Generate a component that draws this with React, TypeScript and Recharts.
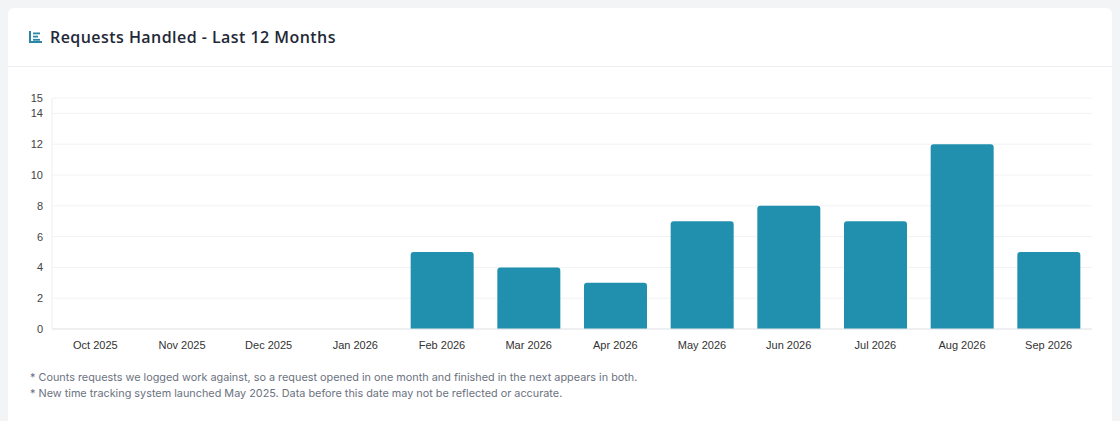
import { Bar, BarChart, CartesianGrid, XAxis, YAxis } from "recharts";

const months = [
  "Oct 2025",
  "Nov 2025",
  "Dec 2025",
  "Jan 2026",
  "Feb 2026",
  "Mar 2026",
  "Apr 2026",
  "May 2026",
  "Jun 2026",
  "Jul 2026",
  "Aug 2026",
  "Sep 2026",
];
const requests = [0, 0, 0, 0, 5, 4, 3, 7, 8, 7, 12, 5];
const yTicks = [0, 2, 4, 6, 8, 10, 12, 14, 15];
const notes = [
  "* Counts requests we logged work against, so a request opened in one month and finished in the next appears in both.",
  "* New time tracking system launched May 2025. Data before this date may not be reflected or accurate.",
];

const chartData = months.map((m, i) => ({ month: m, count: requests[i] }));

function ChartIcon() {
  return (
    <svg width="13" height="12" viewBox="0 0 13 12" style={{ display: "block" }}>
      <path d="M1 0 V11 H13" fill="none" stroke="#2a86a6" strokeWidth="2" />
      <rect x="4" y="1.5" width="7" height="1.8" fill="#2a86a6" />
      <rect x="4" y="4.7" width="5" height="1.8" fill="#2a86a6" />
      <rect x="4" y="7.9" width="7" height="1.8" fill="#2a86a6" />
    </svg>
  );
}

export default function App() {
  return (
    <div
      style={{
        position: "absolute",
        top: 0,
        left: 0,
        width: 1120,
        height: 421,
        background: "#f3f4f6",
        padding: "8px 8px 0 8px",
        boxSizing: "border-box",
        overflow: "hidden",
      }}
    >
      <div
        style={{
          background: "#fff",
          borderRadius: 6,
          height: 460,
          width: 1104,
        }}
      >
        <div
          style={{
            height: 59,
            boxSizing: "border-box",
            borderBottom: "1px solid #eceef1",
            display: "flex",
            alignItems: "center",
            paddingLeft: 21,
            gap: 8,
          }}
        >
          <ChartIcon />
          <span
            style={{
              fontFamily: "'Open Sans', sans-serif",
              fontWeight: 600,
              fontSize: 16,
              letterSpacing: 0.45,
              color: "#1f2937",
            }}
          >
            Requests Handled - Last 12 Months
          </span>
        </div>
        <BarChart
          width={1104}
          height={297}
          data={chartData}
          margin={{ top: 31, right: 20, bottom: 5, left: 0 }}
          barCategoryGap={12}
          style={{ fontFamily: "'Liberation Sans', Arial, sans-serif" }}
        >
          <CartesianGrid vertical={false} stroke="#f1f2f4" />
          <XAxis
            dataKey="month"
            height={30}
            tickLine={false}
            tickMargin={6}
            stroke="#e3e5e8"
            tick={{ fill: "#333", fontSize: 11 }}
            interval={0}
          />
          <YAxis
            width={44}
            domain={[0, 15]}
            ticks={yTicks}
            interval={0}
            tickLine={false}
            tickMargin={3}
            stroke="#eceef0"
            tick={{ fill: "#444", fontSize: 11 }}
          />
          <Bar
            dataKey="count"
            fill="#2190ae"
            radius={[3, 3, 0, 0]}
            isAnimationActive={false}
          />
        </BarChart>
        <div
          style={{
            paddingLeft: 22,
            paddingTop: 5,
            fontFamily: "Inter, sans-serif",
            fontSize: 10.85,
            color: "#6b7280",
            lineHeight: "16px",
          }}
        >
          {notes.map((n) => (
            <div key={n} style={{ whiteSpace: "nowrap" }}>
              {n}
            </div>
          ))}
        </div>
      </div>
    </div>
  );
}
